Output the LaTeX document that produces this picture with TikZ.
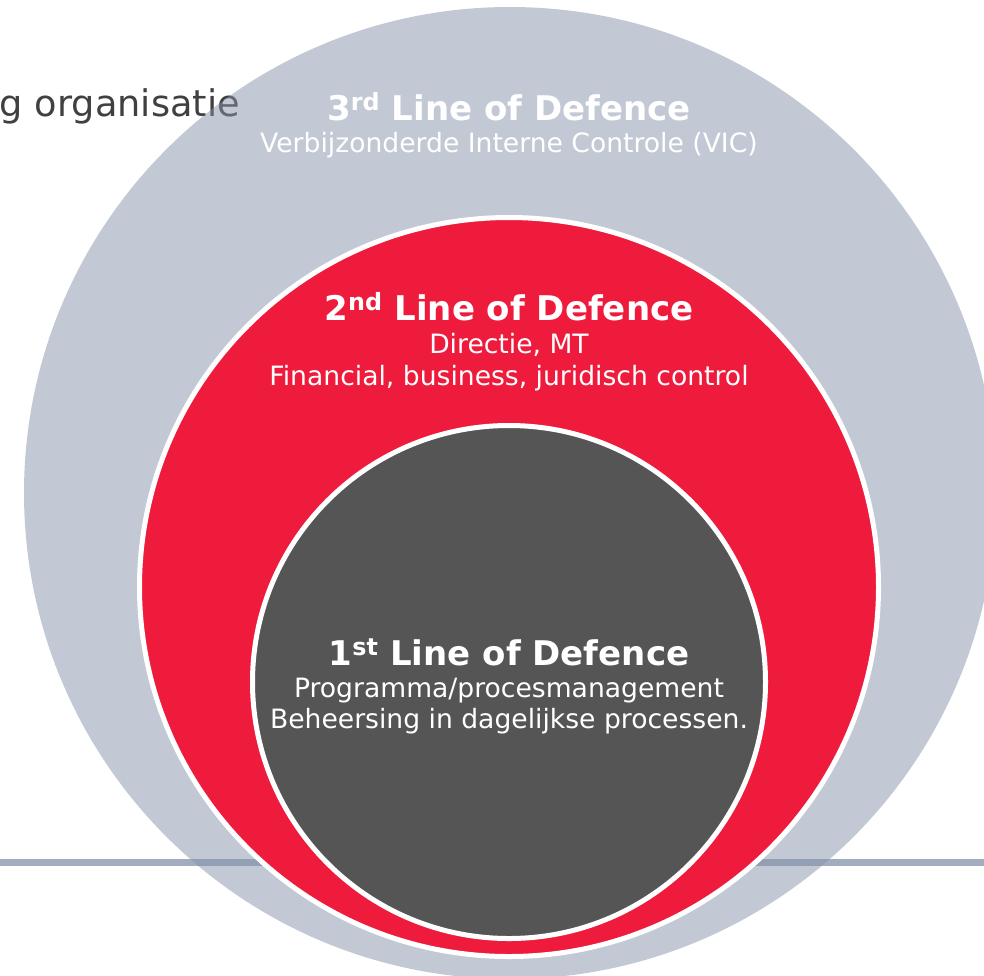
\documentclass[tikz,border=0pt]{standalone}
\usepackage{fontspec}
\setmainfont{DejaVu Sans}

\definecolor{vicgray}{RGB}{133,147,171}
\definecolor{linegray}{RGB}{162,174,191}
\definecolor{lodred}{RGB}{238,27,60}
\definecolor{loddark}{RGB}{85,85,85}
\definecolor{txtdark}{RGB}{64,64,64}

\tikzset{
  lodtitle/.style={text=white, anchor=base, inner sep=0pt, font=\fontsize{34}{34}\selectfont\bfseries},
  lodsub/.style={text=white, anchor=base, inner sep=0pt, font=\fontsize{26.6}{26.6}\selectfont},
  ring/.style={draw=white, line width=5pt}
}

\begin{document}
\begin{tikzpicture}[x=1pt,y=-1pt]
\clip (0,0) rectangle (984,975);
\node[anchor=base east, inner sep=0pt, text=txtdark, font=\fontsize{36.7}{36.7}\selectfont] (org) at (240,116) {g organisatie};
\draw[linegray, line width=7pt] (0,862) -- (984,862);
% third line
\fill[vicgray, opacity=0.5] (510,493) circle (486pt);
% second and first line
\draw[ring, fill=lodred] (509,587) circle (369.5pt);
\draw[ring, fill=loddark] (509,682) circle (256.5pt);
\node[lodtitle] (third) at (509,120) {3\textsuperscript{rd} Line of Defence};
\node[lodsub] (vic) at (509,152) {Verbijzonderde Interne Controle (VIC)};
\node[lodtitle] (second) at (509,320) {2\textsuperscript{nd} Line of Defence};
\node[lodsub] (mt) at (509,353) {Directie, MT};
\node[lodsub] (control) at (509,385) {Financial, business, juridisch control};
\node[lodtitle] (first) at (509,665) {1\textsuperscript{st} Line of Defence};
\node[lodsub] (proces) at (509,697) {Programma/procesmanagement};
\node[lodsub] (beheer) at (509,728) {Beheersing in dagelijkse processen.};
\end{tikzpicture}
\end{document}
